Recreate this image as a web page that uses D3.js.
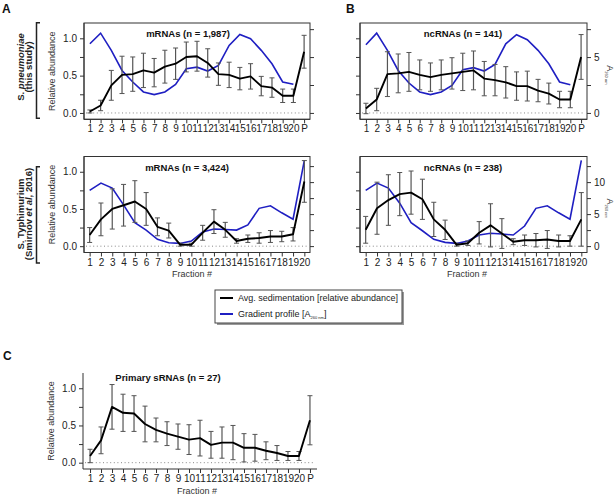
<!DOCTYPE html>
<html><head><meta charset="utf-8">
<script src="https://cdn.jsdelivr.net/npm/d3@7"></script>
<style>
html,body{margin:0;padding:0;background:#fff;}
svg{display:block;font-family:"Liberation Sans",Arial,sans-serif;}
</style></head>
<body>
<svg id="c" width="616" height="501"></svg>
<script>
// ---------- DATA ----------
const fractionsP = ["1","2","3","4","5","6","7","8","9","10","11","12","13","14","15","16","17","18","19","20","P"];
const fractions20 = ["1","2","3","4","5","6","7","8","9","10","11","12","13","14","15","16","17","18","19","20"];

// A top: S. pneumoniae mRNAs
const spnMrna    = [0.02,0.10,0.37,0.51,0.52,0.57,0.54,0.62,0.66,0.75,0.76,0.67,0.52,0.51,0.46,0.49,0.36,0.34,0.23,0.23,0.82];
const spnMrnaErr = [0.02,0.07,0.20,0.25,0.23,0.23,0.19,0.22,0.21,0.20,0.20,0.19,0.15,0.17,0.15,0.17,0.13,0.13,0.09,0.09,0.22];
const spnGradA   = [6.19,7.14,5.6,3.8,2.77,1.88,1.64,1.88,2.56,3.96,4.1,3.75,4.26,6.04,7.02,6.64,5.6,4.4,2.77,2.56];
// B top: S. pneumoniae ncRNAs
const spnNc      = [0.06,0.18,0.52,0.53,0.55,0.51,0.48,0.51,0.53,0.55,0.57,0.46,0.44,0.41,0.36,0.36,0.30,0.26,0.18,0.18,0.75];
const spnNcErr   = [0.07,0.15,0.30,0.26,0.26,0.20,0.19,0.20,0.21,0.25,0.26,0.23,0.21,0.21,0.19,0.20,0.15,0.14,0.11,0.11,0.30];
const spnGradB   = [6.1,7.14,5.6,3.8,2.68,1.88,1.64,1.88,2.47,3.87,4.05,3.75,4.35,6.19,7.0,6.55,5.6,4.4,2.77,2.53];
// A bottom: S. Typhimurium mRNAs
const stmMrna    = [0.15,0.36,0.50,0.55,0.60,0.50,0.26,0.21,0.02,0.02,0.18,0.33,0.22,0.07,0.10,0.11,0.13,0.13,0.16,0.87];
const stmMrnaErr = [0.10,0.22,0.27,0.28,0.28,0.22,0.12,0.10,0.02,0.02,0.10,0.16,0.10,0.03,0.05,0.07,0.08,0.07,0.09,0.28];
const stmGradA   = [8.7,9.84,9.06,6.44,3.66,2.5,1.05,0.52,0.42,0.79,2.2,2.67,2.6,2.5,3.3,5.9,6.3,5.2,4.2,13.4];
// B bottom: S. Typhimurium ncRNAs
const stmNc      = [0.22,0.51,0.62,0.70,0.72,0.63,0.36,0.22,0.02,0.04,0.18,0.28,0.17,0.06,0.08,0.08,0.09,0.07,0.07,0.36];
const stmNcErr   = [0.18,0.35,0.34,0.29,0.29,0.27,0.23,0.13,0.02,0.03,0.15,0.29,0.20,0.04,0.07,0.09,0.12,0.08,0.07,0.36];
const stmGradB   = [8.7,9.84,9.06,6.7,3.66,2.4,1.05,0.58,0.42,0.79,1.73,2.0,1.9,1.73,3.14,5.9,6.3,5.2,4.2,13.4];
// C: primary sRNAs
const sRna       = [0.09,0.30,0.75,0.67,0.66,0.52,0.44,0.39,0.35,0.31,0.33,0.24,0.27,0.27,0.20,0.20,0.16,0.13,0.09,0.09,0.57];
const sRnaErr    = [0.09,0.18,0.30,0.25,0.24,0.24,0.16,0.16,0.17,0.20,0.24,0.18,0.21,0.23,0.19,0.18,0.12,0.10,0.06,0.06,0.33];

const leftTicks = [0,0.25,0.5,0.75,1.0];
const leftLabelTicks = [0,0.5,1.0];
const rightTicksTop = [0,2.5,5,7.5];
const rightTicksBottom = [0,2.5,5,7.5,10,12.5];
const rightLabelTicks = [0,5,10];

// ---------- DRAW ----------
const svg = d3.select("#c");
const BLUE = "#1f1fc2", AXIS = "#333", ERR = "#555";

function panel(o){
  const g = svg.append("g");
  const x = d3.scalePoint().domain(o.cats).range([o.x0,o.x1]).padding(o.pad);
  const yL = d3.scaleLinear().domain([-0.085,1.205]).range([o.y1,o.y0]);
  const yR = o.rDomain ? d3.scaleLinear().domain(o.rDomain).range([o.y1,o.y0]) : null;

  g.append("line").attr("x1",o.x0+2).attr("x2",o.x1-2).attr("y1",yL(0)).attr("y2",yL(0))
    .attr("stroke","#888").attr("stroke-width",1).attr("stroke-dasharray","1,2.6");

  if(o.box){
    g.append("rect").attr("x",o.x0).attr("y",o.y0).attr("width",o.x1-o.x0).attr("height",o.y1-o.y0)
      .attr("fill","none").attr("stroke",AXIS).attr("stroke-width",1);
  }
  const la = g.append("g").attr("transform",`translate(${o.x0},0)`)
    .call(d3.axisLeft(yL).tickValues(leftTicks).tickSize(4)
      .tickFormat(d => (o.leftLabels && leftLabelTicks.includes(d)) ? d3.format(".1f")(d) : ""));
  la.select(".domain").attr("d",`M0,${o.y0}V${o.y1}`).attr("stroke",AXIS);
  la.selectAll("line").attr("stroke",AXIS);
  la.selectAll("text").attr("font-size",10).attr("fill","#222").attr("font-family","Liberation Sans, Arial, sans-serif");

  const ba = g.append("g").attr("transform",`translate(0,${o.y1})`)
    .call(d3.axisBottom(x).tickSize(4).tickPadding(2));
  ba.select(".domain").attr("d",`M${o.x0},0H${o.x1}`).attr("stroke",AXIS);
  ba.selectAll("line").attr("stroke",AXIS);
  ba.selectAll("text").attr("font-size",10).attr("fill","#222").attr("font-family","Liberation Sans, Arial, sans-serif");

  if(yR){
    const ra = g.append("g").attr("transform",`translate(${o.x1},0)`)
      .call(d3.axisRight(yR).tickValues(o.rTicks).tickSize(4).tickPadding(3)
        .tickFormat(d => (o.rightLabels && rightLabelTicks.includes(d)) ? d3.format("d")(d) : ""));
    ra.select(".domain").remove();
    ra.selectAll("line").attr("stroke",AXIS);
    ra.selectAll("text").attr("font-size",10).attr("fill","#222").attr("font-family","Liberation Sans, Arial, sans-serif");
  }

  if(o.blue){
    g.append("path").datum(o.blue)
      .attr("d", d3.line().x((d,i)=>x(o.cats[i])).y(d=>yR(d)))
      .attr("fill","none").attr("stroke",BLUE).attr("stroke-width",1.6);
  }
  const eb = g.append("g");
  o.black.forEach((v,i)=>{
    const cx = x(o.cats[i]), e = o.err[i];
    const t = yL(v+e), b = yL(v-e);
    eb.append("line").attr("x1",cx).attr("x2",cx).attr("y1",t).attr("y2",b).attr("stroke",ERR).attr("stroke-width",1.2);
    eb.append("line").attr("x1",cx-2.5).attr("x2",cx+2.5).attr("y1",t).attr("y2",t).attr("stroke",ERR).attr("stroke-width",1);
    eb.append("line").attr("x1",cx-2.5).attr("x2",cx+2.5).attr("y1",b).attr("y2",b).attr("stroke",ERR).attr("stroke-width",1);
  });
  g.append("path").datum(o.black)
    .attr("d", d3.line().x((d,i)=>x(o.cats[i])).y(d=>yL(d)))
    .attr("fill","none").attr("stroke","#000").attr("stroke-width",1.9).attr("stroke-linejoin","round");

  g.append("text").attr("x",o.tx).attr("y",o.ty).attr("text-anchor","middle")
    .attr("font-size",9.5).attr("font-weight","bold").attr("fill","#111").text(o.title);

  if(o.yTitle){
    g.append("text").attr("transform",`translate(${o.x0-29},${(o.y0+o.y1)/2}) rotate(-90)`)
      .attr("text-anchor","middle").attr("font-size",9).attr("fill","#333").text("Relative abundance");
  }
  if(o.xTitle){
    g.append("text").attr("x",o.xtx).attr("y",o.y1+24.5).attr("text-anchor","middle")
      .attr("font-size",9).attr("fill","#333").text("Fraction #");
  }
  if(o.rTitle){
    const t = g.append("text").attr("transform",`translate(${o.x1+20},${(o.y0+o.y1)/2-6}) rotate(90)`)
      .attr("font-size",9).attr("fill","#333");
    t.append("tspan").text("A");
    t.append("tspan").attr("font-size",4).attr("dy",2).text("260 nm");
  }
}

panel({x0:84,x1:310,y0:23,y1:119.3,cats:fractionsP,pad:0.55,rDomain:[-0.57,8.05],rTicks:rightTicksTop,
  black:spnMrna,err:spnMrnaErr,blue:spnGradA,title:"mRNAs (n = 1,987)",tx:188,ty:37,box:true,
  leftLabels:true,rightLabels:false,yTitle:true});
panel({x0:360,x1:587,y0:23,y1:119.3,cats:fractionsP,pad:0.55,rDomain:[-0.57,8.05],rTicks:rightTicksTop,
  black:spnNc,err:spnNcErr,blue:spnGradB,title:"ncRNAs (n = 141)",tx:463,ty:37,box:true,
  leftLabels:false,rightLabels:true,rTitle:true});
panel({x0:84,x1:310,y0:156.5,y1:252.5,cats:fractions20,pad:0.5,rDomain:[-1.0,14.0],rTicks:rightTicksBottom,
  black:stmMrna,err:stmMrnaErr,blue:stmGradA,title:"mRNAs (n = 3,424)",tx:187,ty:171,box:true,
  leftLabels:true,rightLabels:false,yTitle:true,xTitle:true,xtx:192});
panel({x0:360,x1:587,y0:156.5,y1:252.5,cats:fractions20,pad:0.5,rDomain:[-1.0,14.0],rTicks:rightTicksBottom,
  black:stmNc,err:stmNcErr,blue:stmGradB,title:"ncRNAs (n = 238)",tx:463,ty:171,box:true,
  leftLabels:false,rightLabels:true,rTitle:true,xTitle:true,xtx:467});
panel({x0:83,x1:317,y0:373,y1:469,cats:fractionsP,pad:0.64,rDomain:null,
  black:sRna,err:sRnaErr,blue:null,title:"Primary sRNAs (n = 27)",tx:168,ty:381,box:false,
  leftLabels:true,yTitle:true,xTitle:true,xtx:197});

[["A",2,13],["B",346,13],["C",3,360]].forEach(([t,x,y])=>{
  svg.append("text").attr("x",x).attr("y",y).attr("font-size",12).attr("font-weight","bold").attr("fill","#111").text(t);
});

function bracket(y0,y1){
  svg.append("path").attr("d",`M40,${y0}H36.5V${y1}H40`).attr("fill","none").attr("stroke","#222").attr("stroke-width",1.5);
}
bracket(22.7,118.3);
bracket(166.7,263);
const s1 = svg.append("text").attr("transform","translate(0,67) rotate(-90)")
  .attr("text-anchor","middle").attr("font-size",9.5).attr("font-weight","bold").attr("fill","#222");
s1.append("tspan").attr("x",0).attr("y",23.5).text("S. ").append("tspan").attr("font-style","italic").text("pneumoniae");
s1.append("tspan").attr("x",0).attr("y",32.3).text("(this study)");
const s2 = svg.append("text").attr("transform","translate(0,214) rotate(-90)")
  .attr("text-anchor","middle").attr("font-size",9.5).attr("font-weight","bold").attr("fill","#222");
s2.append("tspan").attr("x",0).attr("y",23.5).text("S. Typhimurium");
s2.append("tspan").attr("x",0).attr("y",32.3).text("(Smirnov ");
s2.append("tspan").attr("font-style","italic").text("et al");
s2.append("tspan").text(", 2016)");

const lg = svg.append("g");
lg.append("rect").attr("x",217).attr("y",292).attr("width",187).attr("height",33).attr("fill","#999");
lg.append("rect").attr("x",215).attr("y",290).attr("width",187).attr("height",33).attr("fill","#fff").attr("stroke","#444").attr("stroke-width",1);
const legendItems = [["Avg. sedimentation [relative abundance]","#000"],["Gradient profile [A","#1f1fc2"]];
legendItems.forEach(([txt,col],i)=>{
  const yy = 298 + i*16;
  lg.append("line").attr("x1",220).attr("x2",233).attr("y1",yy).attr("y2",yy).attr("stroke",col).attr("stroke-width",2);
  const t = lg.append("text").attr("x",238).attr("y",yy+3.2).attr("font-size",9).attr("fill","#222").text(txt);
  if(i===1){
    t.append("tspan").attr("font-size",4).attr("dy",1.5).text("260 nm");
    t.append("tspan").attr("dy",-1.5).text("]");
  }
});
</script>
</body></html>
